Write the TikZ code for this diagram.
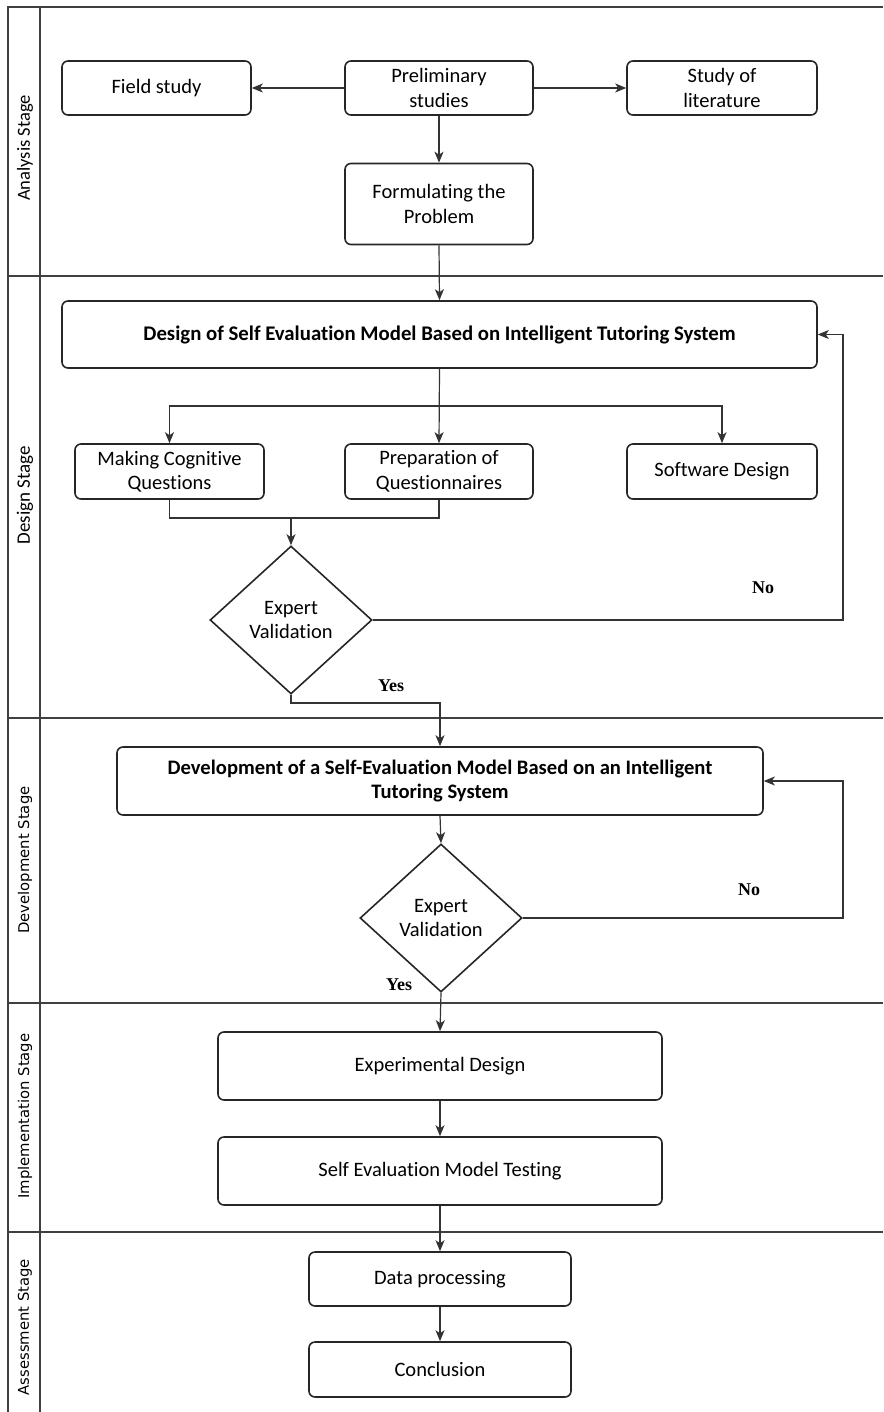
\documentclass[tikz,border=0pt]{standalone}
\usepackage{fontspec}
\setmainfont{Carlito}[Ligatures=NoCommon]
\newfontfamily\yesnofont{Liberation Serif}
\newfontfamily\lanefont{DejaVu Sans}
\usetikzlibrary{shapes.geometric,arrows.meta}
\begin{document}
\begin{tikzpicture}[x=1pt,y=-1pt,
  font=\fontsize{20.5}{24.5}\selectfont,
  box/.style={draw=black!85, line width=1.6pt, rounded corners=6pt, align=center, inner sep=2pt},
  dia/.style={draw=black!85, line width=1.6pt, diamond, align=center, inner sep=0pt, minimum width=162pt, minimum height=148pt},
  arr/.style={draw=black!80, line width=1.2pt, -{Stealth[length=11pt,width=9pt,inset=3pt]}},
  ln/.style={draw=black!80, line width=1.2pt},
  lane/.style={draw=black!75, line width=1.4pt},
  lanelabel/.style={rotate=90, anchor=center},
  yn/.style={font=\yesnofont\bfseries\fontsize{18}{21}\selectfont}
]
\useasboundingbox (0,0) rectangle (883,1412);
% lanes
\draw[lane] (8,1412) -- (8,7) -- (883,7);
\draw[lane] (40,7) -- (40,1412);
\draw[lane] (8,276) -- (883,276);
\draw[lane] (8,718) -- (883,718);
\draw[lane] (8,1003) -- (883,1003);
\draw[lane] (8,1232) -- (883,1232);
\node[lanelabel, font=\fontsize{18.5}{21}\selectfont] (l1) at (25,148) {Analysis Stage};
\node[lanelabel, font=\fontsize{19}{21}\selectfont] (l2) at (25,495) {Design Stage};
\node[lanelabel, font=\lanefont\fontsize{14.8}{17}\selectfont] (l3) at (25,860) {Development Stage};
\node[lanelabel, font=\lanefont\fontsize{14.8}{17}\selectfont] (l4) at (25,1116) {Implementation Stage};
\node[lanelabel, font=\lanefont\fontsize{14.8}{17}\selectfont] (l5) at (25,1327) {Assessment Stage};
% nodes
\node[box, minimum width=189pt, minimum height=54pt] (field) at (156.5,88) {Field study};
\node[box, minimum width=188pt, minimum height=54pt] (prelim) at (439,88) {Preliminary\\studies};
\node[box, minimum width=190pt, minimum height=54pt] (lit) at (722,88) {Study of\\literature};
\node[box, minimum width=188pt, minimum height=81pt] (form) at (439,204) {Formulating the\\Problem};
\node[box, minimum width=755pt, minimum height=67pt, font=\bfseries\fontsize{20.8}{24.5}\selectfont] (design) at (439.5,334.5) {Design of Self Evaluation Model Based on Intelligent Tutoring System};
\node[box, minimum width=189pt, minimum height=55pt] (making) at (169.5,471.5) {Making Cognitive\\Questions};
\node[box, minimum width=188pt, minimum height=55pt] (prep) at (439,471.5) {Preparation of\\Questionnaires};
\node[box, minimum width=190pt, minimum height=55pt] (soft) at (722,471.5) {Software Design};
\node[dia] (d1) at (291,620) {Expert\\Validation};
\node[box, minimum width=646pt, minimum height=68pt, font=\bfseries\fontsize{20.6}{24.5}\selectfont] (dev) at (440,781) {Development of a Self-Evaluation Model Based on an Intelligent\\Tutoring System};
\node[dia] (d2) at (441,918) {Expert\\Validation};
\node[box, minimum width=444pt, minimum height=68pt] (exp) at (440,1066) {Experimental Design};
\node[box, minimum width=444pt, minimum height=68pt] (test) at (440,1171) {Self Evaluation Model Testing};
\node[box, minimum width=262pt, minimum height=54pt] (data) at (440,1279) {Data processing};
\node[box, minimum width=262pt, minimum height=55pt] (concl) at (440,1369.5) {Conclusion};
% labels
\node[yn] (no1) at (763,588) {No};
\node[yn] (yes1) at (391,686) {Yes};
\node[yn] (no2) at (749,890) {No};
\node[yn] (yes2) at (399,985) {Yes};
% coordinates
\coordinate (br) at (439,406);
\coordinate (mg) at (291,518);
\coordinate (n1) at (843,620);
\coordinate (y1) at (291,703);
\coordinate (n2) at (843,918);
% connectors
\draw[arr] (prelim.west) -- (field.east);
\draw[arr] (prelim.east) -- (lit.west);
\draw[arr] (prelim.south) -- (form.north);
\draw[arr] (form.south) -- (design.north);
\draw[arr] (design.south) -- (prep.north);
\draw[arr] (br) -| (making.north);
\draw[arr] (br) -| (soft.north);
\draw[ln] (making.south) |- (mg);
\draw[ln] (prep.south) |- (mg);
\draw[arr] (mg) -- (d1.north);
\draw[arr] (d1.east) -- (n1) |- (design.east);
\draw[arr] (d1.south) -- (y1) -| (dev.north);
\draw[arr] (dev.south) -- (d2.north);
\draw[arr] (d2.east) -- (n2) |- (dev.east);
\draw[arr] (d2.south) -- (exp.north);
\draw[arr] (exp.south) -- (test.north);
\draw[arr] (test.south) -- (data.north);
\draw[arr] (data.south) -- (concl.north);
\end{tikzpicture}
\end{document}
